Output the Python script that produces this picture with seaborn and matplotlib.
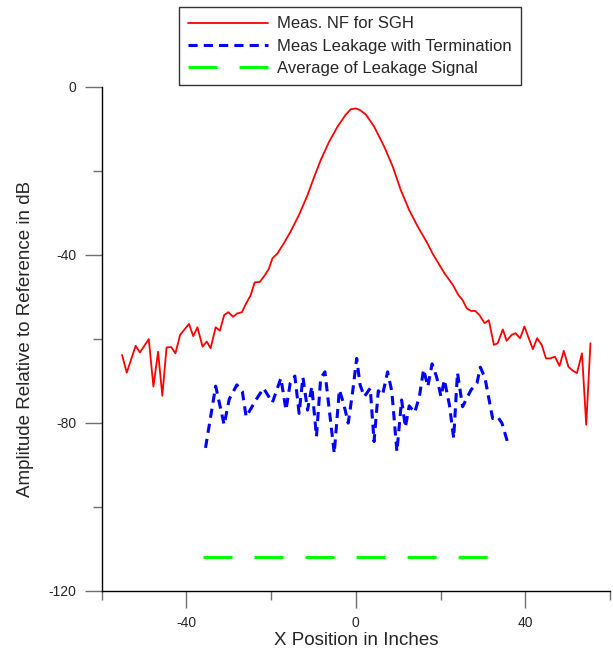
import pandas as pd
import numpy as np
import matplotlib.pyplot as plt
import seaborn as sns

# Ölçülen yakın alan (SGH)
nf_x = [-55.2, -54.1, -52.0, -51.0, -48.9, -47.8, -46.7, -45.7, -44.7, -43.6,
        -42.6, -41.5, -39.4, -38.4, -37.4, -36.2, -35.2, -34.3, -33.1, -32.1,
        -31.1, -30.1, -29.0, -28.0, -26.9, -25.9, -24.8, -23.9, -22.7, -21.7,
        -20.6, -19.7, -18.5, -17.0, -15.4, -13.4, -11.4, -9.8, -8.3, -6.3,
        -4.3, -2.4, -1.2, 0.0, 1.0, 2.4, 4.3, 6.7, 8.7, 10.6,
        12.6, 14.6, 16.9, 18.1, 20.9, 22.9, 24.2, 25.2, 26.2, 27.2,
        28.2, 29.2, 30.4, 31.4, 32.6, 33.5, 34.7, 35.6, 36.8, 37.7,
        38.8, 39.8, 41.8, 42.8, 43.9, 44.9, 45.9, 47.0, 48.1, 49.1,
        50.2, 51.2, 52.2, 53.4, 54.4, 55.4]
nf_db = [-63.9, -68.1, -61.7, -63.3, -60.1, -71.4, -63.1, -73.6, -62.1, -62.0,
         -63.5, -59.1, -56.5, -59.4, -57.3, -61.9, -60.7, -62.3, -57.3, -58.1,
         -54.4, -53.7, -54.8, -54.0, -53.7, -51.6, -49.6, -46.6, -46.5, -45.2,
         -43.5, -40.9, -39.7, -37.3, -34.5, -30.5, -25.8, -21.4, -17.5, -13.1,
         -9.5, -6.7, -5.4, -5.2, -5.6, -6.7, -9.5, -14.3, -19.0, -24.6,
         -29.4, -33.3, -37.3, -39.7, -44.4, -47.2, -49.6, -50.8, -52.8, -53.4,
         -53.4, -54.4, -56.3, -55.6, -61.5, -61.1, -57.8, -60.5, -59.1, -58.7,
         -59.9, -57.1, -62.5, -59.9, -61.5, -64.7, -64.7, -64.3, -66.5, -62.9,
         -66.7, -67.6, -68.2, -63.5, -80.5, -61.1]

# Sonlandırmalı sızıntı ölçümü
leak_x = [-35.5, -33.1, -31.1, -29.9, -28.1, -26.8, -25.9, -23.6, -21.8, -19.7,
          -17.7, -16.5, -15.5, -14.4, -13.4, -12.5, -11.4, -10.4, -9.3, -8.3,
          -7.3, -5.1, -3.9, -2.9, -1.8, -0.8, 0.2, 1.0, 2.0, 3.4,
          4.3, 5.3, 6.3, 7.5, 8.5, 9.7, 10.8, 11.7, 12.6, 13.9,
          15.0, 16.0, 17.0, 18.0, 19.1, 20.1, 20.9, 22.1, 23.1, 24.0,
          25.2, 26.4, 27.2, 28.6, 29.4, 30.5, 32.3, 33.5, 34.5, 35.9]
leak_db = [-86.0, -71.3, -80.5, -74.4, -71.0, -72.6, -78.6, -74.6, -71.8, -75.2,
           -69.4, -77.0, -70.6, -68.9, -77.8, -69.2, -77.0, -71.4, -83.3, -69.4,
           -67.9, -87.3, -72.2, -75.4, -80.1, -73.0, -64.7, -71.0, -73.8, -71.8,
           -84.5, -72.4, -73.4, -67.9, -72.6, -86.9, -74.6, -81.1, -76.0, -77.6,
           -73.8, -67.3, -71.4, -66.0, -69.2, -73.8, -69.8, -75.8, -83.7, -68.1,
           -76.2, -73.8, -72.2, -70.6, -66.8, -69.4, -79.0, -78.6, -80.1, -84.9]

# Sızıntı sinyalinin ortalaması
avg_x = [-36, 36]
avg_db = [-112, -112]

nf = pd.DataFrame({'x': nf_x, 'db': nf_db})
leak = pd.DataFrame({'x': leak_x, 'db': leak_db})
avg = pd.DataFrame({'x': avg_x, 'db': avg_db})

sns.set_style('ticks')
plt.rcParams['font.family'] = ['Liberation Sans', 'DejaVu Sans']
plt.rcParams['axes.unicode_minus'] = False

fig, ax = plt.subplots(figsize=(6.13, 6.51), dpi=100)
fig.subplots_adjust(left=0.166, right=0.995, top=0.867, bottom=0.0926)

sns.lineplot(data=nf, x='x', y='db', ax=ax, color='#ff0000', lw=1.3,
             label='Meas. NF for SGH', estimator=None)
sns.lineplot(data=leak, x='x', y='db', ax=ax, color='#0000ff', lw=2.2,
             linestyle=(0, (3.0, 2.0)), label='Meas Leakage with Termination',
             estimator=None)
sns.lineplot(data=avg, x='x', y='db', ax=ax, color='#00ff00', lw=2.2,
             linestyle=(0, (9.5, 7.2)), label='Average of Leakage Signal',
             estimator=None)

ax.set_xlim(-60, 60)
ax.set_ylim(-120, 0)
ax.set_xticks([-40, 0, 40])
ax.set_xticks([-60, -20, 20, 60], minor=True)
ax.set_yticks([0, -40, -80, -120])
ax.set_yticks([-20, -60, -100], minor=True)
ax.tick_params(which='major', direction='out', length=12.5, width=1,
               color='#707070', labelsize=10, pad=6)
ax.tick_params(which='minor', direction='out', length=6.5, width=1,
               color='#707070')
sns.despine(ax=ax)
for s in ['left', 'bottom']:
    ax.spines[s].set_color('black')
    ax.spines[s].set_linewidth(1)

ax.set_xlabel('X Position in Inches', fontsize=13.5, labelpad=1)
ax.set_ylabel('Amplitude Relative to Reference in dB', fontsize=13.5,
              labelpad=10)

leg = ax.legend(loc='upper left', bbox_to_anchor=(179.3 / 613, 1 - 7.3 / 651),
                bbox_transform=fig.transFigure, borderaxespad=0,
                fontsize=12, handlelength=4.8, handletextpad=0.5,
                borderpad=0.55, labelspacing=0.43, fancybox=False)
leg.get_frame().set_edgecolor('black')
leg.get_frame().set_linewidth(1)

plt.savefig('out.png', dpi=100)
plt.close()
